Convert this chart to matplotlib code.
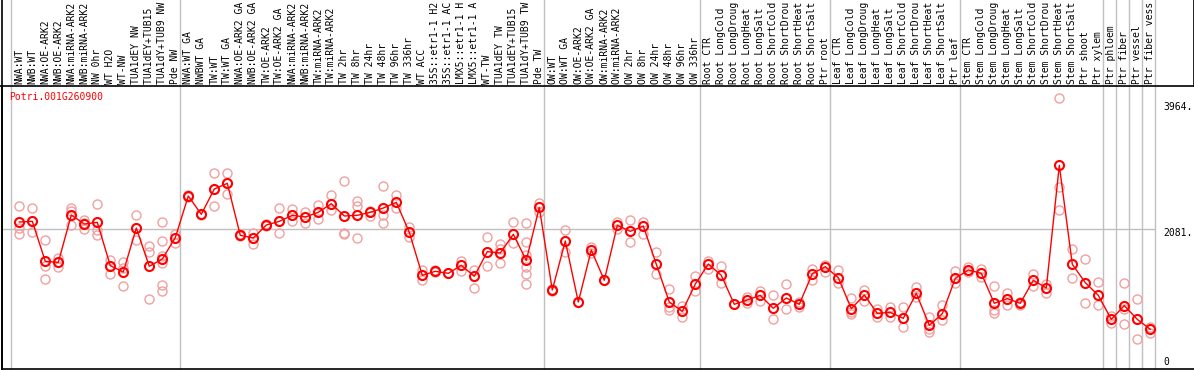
import matplotlib
matplotlib.use("Agg")
import matplotlib.pyplot as plt
from matplotlib.lines import Line2D

gene = "Potri.001G260900"

labels = [
    "NWA:WT", "NWB:WT", "NWA:OE-ARK2", "NWB:OE-ARK2", "NWA:miRNA-ARK2", "NWB:miRNA-ARK2",
    "NW 0hr", "WT H2O", "WT-NW", "TUA1dEY NW", "TUA1dEY+TUB15 NW", "TUA1dY+TUB9 NW", "Pde NW",
    "NWA:WT GA", "NWBWT GA", "TW:WT", "TW:WT GA", "NWA:OE-ARK2 GA", "NWB:OE-ARK2 GA",
    "TW:OE-ARK2", "TW:OE-ARK2 GA", "NWA:miRNA-ARK2 GA", "NWB:miRNA-ARK2 GA", "TW:miRNA-ARK2",
    "TW:miRNA-ARK2 GA", "TW 2hr", "TW 8hr", "TW 24hr", "TW 48hr", "TW 96hr", "TW 336hr",
    "WT ACC", "35S::etr1-1 H2O", "35S::etr1-1 ACC", "LMX5::etr1-1 H2O", "LMX5::etr1-1 ACC",
    "WT-TW", "TUA1dEY TW", "TUA1dEY+TUB15 TW", "TUA1dY+TUB9 TW", "Pde TW",
    "OW:WT", "OW:WT GA", "OW:OE-ARK2", "OW:OE-ARK2 GA", "OW:miRNA-ARK2", "OW:miRNA-ARK2 GA",
    "OW 2hr", "OW 8hr", "OW 24hr", "OW 48hr", "OW 96hr", "OW 336hr",
    "Root CTR", "Root LongCold", "Root LongDrought", "Root LongHeat", "Root LongSalt",
    "Root ShortCold", "Root ShortDrought", "Root ShortHeat", "Root ShortSalt", "Ptr root",
    "Leaf CTR", "Leaf LongCold", "Leaf LongDrought", "Leaf LongHeat", "Leaf LongSalt",
    "Leaf ShortCold", "Leaf ShortDrought", "Leaf ShortHeat", "Leaf ShortSalt", "Ptr leaf",
    "Stem CTR", "Stem LongCold", "Stem LongDrought", "Stem LongHeat", "Stem LongSalt",
    "Stem ShortCold", "Stem ShortDrought", "Stem ShortHeat", "Stem ShortSalt",
    "Ptr shoot", "Ptr xylem", "Ptr phloem", "Ptr fiber", "Ptr vessel", "Ptr fiber vessel",
]

# first sample index of each group (separator lines)
group_starts = [0, 13, 41, 53, 63, 73, 84, 85, 86, 87, 88]

means = [
    2182, 2192, 1594, 1579, 2287, 2152, 2177, 1529, 1435, 2092, 1520, 1629, 1948,
    2571, 2297, 2675, 2760, 1983, 1943, 2137, 2192, 2282, 2257, 2327, 2456, 2272,
    2282, 2327, 2391, 2476, 2028, 1385, 1445, 1415, 1535, 1370, 1739, 1719, 1998,
    1609, 2401,
    1166, 1898, 986, 1764, 1311, 2132, 2043, 2122, 1550, 986, 847, 1255,
    1554, 1385, 952, 1016, 1086, 892, 1046, 952, 1410, 1514,
    1350, 887, 1091, 817, 832, 742, 1116, 638, 812, 1340,
    1465, 1415, 967, 1036, 967, 1311, 1196, 3029, 1550, 1275, 1086,
    727, 932, 727, 578,
]

replicates = [
    [2421, 2088, 2003], [2391, 2192, 2028], [1908, 1524, 1325], [1639, 1579, 1514],
    [2386, 2351, 2142], [2212, 2162, 2082], [2451, 2063, 1988], [1619, 1529, 1405],
    [1584, 1490, 1226], [2282, 2092, 1913], [1823, 1739, 1031],
    [2177, 1893, 1679, 1574, 1240, 1146], [1998, 1873],
    [2586, 2556], [2307, 2287], [2914, 2675, 2421], [2914, 2760, 2601], [1998, 1968],
    [2023, 1943, 1858], [2152, 2122], [2391, 2013, 2192], [2376, 2192, 2282],
    [2336, 2172, 2257], [2431, 2222], [2581, 2356, 2446], [2795, 2023, 1998],
    [2496, 2426, 1938], [2346, 2272], [2715, 2282, 2162], [2581, 2386], [2102, 1963],
    [1465, 1315, 1385], [1460, 1430], [1415], [1594, 1450], [1460, 1191],
    [1953, 1520, 1739], [1848, 1779, 1569], [2177, 1863],
    [2162, 1878, 1694, 1515, 1410, 1256], [2471, 2331],
    [1176, 1156], [2063, 1729], [986], [1813, 1724], [1311], [2182, 2082], [2212, 1888],
    [2182, 2003], [1729, 1400], [1176, 907, 867], [927, 762], [1375, 1146],
    [1604, 1475], [1524, 1266], [952], [1056, 966], [1146, 997], [1091, 727],
    [1251, 887], [986, 917], [1475, 1315], [1544, 1440],
    [1465, 1275], [1041, 842, 802], [1166, 1006], [887, 757], [907, 757], [917, 608],
    [1206, 1056], [767, 578, 543], [942, 717], [1450, 1275],
    [1505, 1430], [1480, 1365], [1226, 867, 817], [1116, 942], [986, 947], [1410, 1226],
    [1251, 1116], [4031, 2701, 2357], [1774, 1340], [1629, 967], [1281, 942],
    [777, 677], [1266, 887, 652], [1026, 429], [618, 528],
]

ytick_values = [0, 2081, 3964]
ytick_labels = ["0", "2081.", "3964."]

W, H = 1194, 370
fig = plt.figure(figsize=(W / 100, H / 100), dpi=100, facecolor="w")
ax_left, ax_right, ax_top, ax_bottom = 1.5, 1194, 86, 369
ax = fig.add_axes([ax_left / W, (H - ax_bottom) / H,
                   (ax_right - ax_left) / W, (ax_bottom - ax_top) / H])

# pixel layout: sample i centred at 19.3 + 13 * i
x0, dx = 19.3, 13.0
ax.set_xlim((ax_left - x0) / dx, (ax_right - x0) / dx)
ax.set_ylim(-15, 4215)
ax.set_xticks([])
ax.set_yticks([])
for s in ["top", "bottom", "left"]:
    ax.spines[s].set_color("k")
    ax.spines[s].set_linewidth(1.2)
ax.spines["right"].set_visible(False)

mono = "DejaVu Sans Mono"
grey = "#c0c0c0"
xmax_data = group_starts[-1] - 0.65

# separators run through the label area up to the top of the figure
frac_top = ax_bottom / (ax_bottom - ax_top)
for g in group_starts:
    ax.axvline(g - 0.65, ymin=0, ymax=frac_top, color=grey, lw=1, clip_on=False, zorder=1)
ax.hlines(2081, (ax_left - x0) / dx, xmax_data, color=grey, lw=1, zorder=1)

# replicates
for i, reps in enumerate(replicates):
    ax.plot([i] * len(reps), reps, ls="none", marker="o", ms=6.5, mfc="none",
            mec="#f0a0a0", mew=1.0, zorder=2)

# means
xs = list(range(len(means)))
ax.plot(xs, means, color="#ff0000", lw=1, marker="o", ms=6.5, mfc="none",
        mec="#ff0000", mew=1.5, zorder=3)

# rotated sample labels (the label band only holds 14 characters)
lab_y = (ax_bottom - 84) / (ax_bottom - ax_top)
for i, lab in enumerate(labels):
    ax.text(i, lab_y, lab[:14], rotation=90, ha="center", va="bottom", fontsize=7,
            family=mono, transform=ax.get_xaxis_transform(), clip_on=False)

# gene name
ax.text((9.3 - ax_left) / (ax_right - ax_left), (ax_bottom - 96.7) / (ax_bottom - ax_top),
        gene, color="#ff0000", fontsize=7, family=mono, ha="left", va="center",
        transform=ax.transAxes)

# value labels on the right
offsets = {"0": 4.3, "2081.": -3.2, "3964.": -3.0}
for v, lab in zip(ytick_values, ytick_labels):
    ax.annotate(lab, xy=((1163 - x0) / dx, v), xytext=(0, offsets[lab]),
                textcoords="offset points", ha="left", va="center", fontsize=7,
                family=mono, annotation_clip=False)

# frame lines in the label area
fig.add_artist(Line2D([ax_left / W] * 2, [(H - ax_bottom) / H, 1], color="k", lw=1.2,
                      transform=fig.transFigure))
fig.add_artist(Line2D([0, ax_left / W], [(H - ax_top) / H] * 2, color="k", lw=1.2,
                      transform=fig.transFigure))
fig.add_artist(Line2D([1193.5 / W] * 2, [(H - ax_top) / H, 1], color="k", lw=1.2,
                      transform=fig.transFigure))

fig.savefig("out.png", dpi=100, facecolor="w")
plt.close(fig)
